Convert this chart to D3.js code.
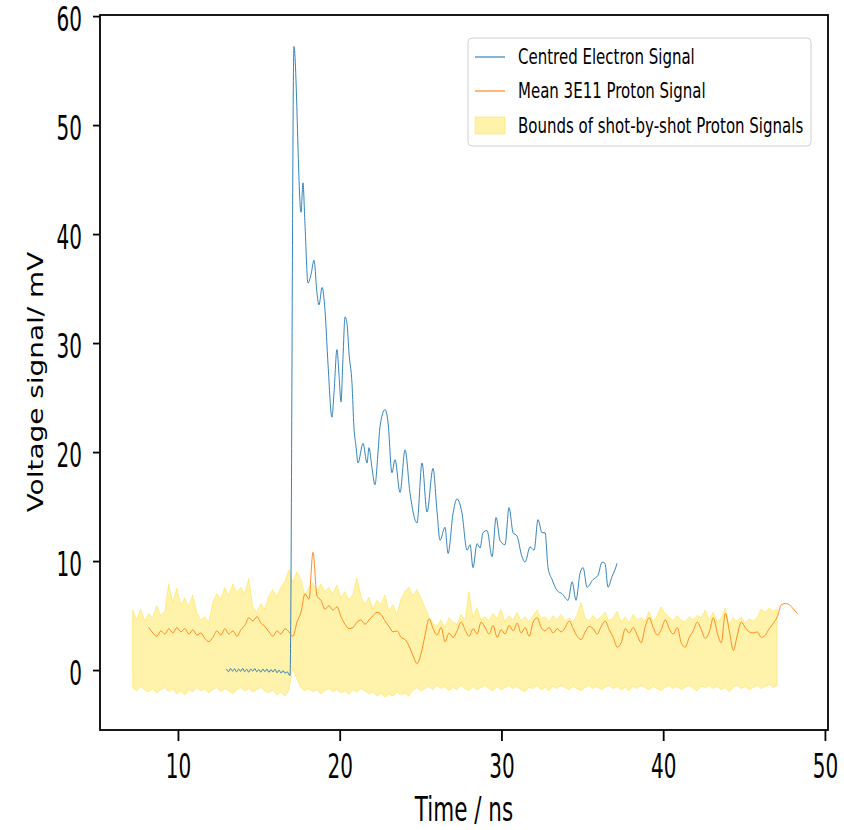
<!DOCTYPE html>
<html>
<head>
<meta charset="utf-8">
<script src="https://cdn.jsdelivr.net/npm/d3@7"></script>
<style>
  body { margin: 0; background: #fff; }
  text { font-family: "DejaVu Sans", sans-serif; fill: #000; }
</style>
</head>
<body>
<svg id="chart" width="844" height="830"></svg>
<script>
// electron signal (centred), irregular sample times
const electronT = [
  13.0, 13.125, 13.25, 13.375, 13.5, 13.625, 13.75, 13.875, 14.0, 14.125,
  14.25, 14.375, 14.5, 14.625, 14.75, 14.875, 15.0, 15.125, 15.25, 15.375,
  15.5, 15.625, 15.75, 15.875, 16.0, 16.125, 16.25, 16.375, 16.5, 16.625,
  16.75, 16.875,
  16.93, 17.17, 17.61, 17.73, 17.85, 18.04, 18.23, 18.41, 18.60, 18.72,
  18.91, 19.09, 19.28, 19.52, 19.65, 19.83, 19.96, 20.08, 20.20, 20.33,
  20.45, 20.58, 20.76, 20.88, 21.01, 21.13, 21.44, 21.69, 21.81, 22.00,
  22.18, 22.37, 22.49, 22.80, 22.99, 23.23, 23.42, 23.73, 24.04, 24.35,
  24.78, 25.09, 25.40, 25.77, 26.02, 26.20, 26.51, 26.70, 27.01, 27.25,
  27.56, 27.87, 28.06, 28.24, 28.49, 28.68, 28.86, 29.11, 29.42, 29.67,
  29.91, 30.22, 30.47, 30.72, 30.96, 31.27, 31.46, 31.77, 32.02, 32.26,
  32.51, 32.70, 32.88, 33.13, 33.44, 33.75, 34.12, 34.37, 34.61, 34.86,
  35.05, 35.29, 35.66, 35.97, 36.22, 36.40, 36.59, 36.84, 37.02, 37.15
];
const electronV = [
  0.1, -0.15, 0.15, -0.1, 0.12, -0.18, 0.1, -0.12, 0.15, -0.15,
  0.08, -0.2, 0.1, -0.1, 0.14, -0.16, 0.05, -0.2, 0.1, -0.15,
  0.1, -0.22, 0.05, -0.18, 0.08, -0.25, 0.0, -0.28, -0.05, -0.3,
  -0.15, -0.45,
  -0.5, 57.2, 42.0, 44.7, 41.0, 35.5, 36.3, 37.6, 34.5, 33.5,
  35.1, 33.0, 28.0, 23.2, 25.5, 29.4, 27.0, 24.6, 28.5, 32.4,
  31.8, 29.0, 26.3, 22.3, 20.5, 19.0, 20.8, 19.0, 20.4, 18.5,
  17.0, 20.0, 22.3, 23.9, 22.7, 18.1, 19.3, 16.3, 20.2, 16.2,
  13.5, 19.0, 14.5, 18.5, 14.5, 11.9, 13.1, 10.7, 14.4, 15.7,
  14.4, 11.0, 11.5, 9.4, 11.6, 11.2, 12.6, 12.8, 10.4, 14.0,
  11.9, 11.5, 14.9, 12.6, 12.3, 10.4, 9.9, 11.3, 11.0, 13.8,
  12.6, 12.6, 9.4, 8.3, 7.3, 7.0, 6.4, 8.1, 6.4, 8.9,
  9.4, 7.6, 8.3, 8.7, 9.9, 9.8, 7.6, 8.6, 9.2, 9.8
];

// mean proton signal, sampled every 0.2475 ns from 8.2 ns
const meanStart = 8.2, meanStep = 0.2475;
const meanV = [
  3.9, 3.4, 3.1, 3.6, 3.3, 3.8, 3.4, 3.9, 3.5, 3.8,
  3.3, 3.7, 3.2, 3.4, 2.9, 2.6, 3.0, 3.6, 3.2, 3.8,
  3.3, 3.6, 3.1, 3.7, 4.1, 4.8, 4.5, 4.9, 4.3, 4.0,
  3.5, 3.1, 3.6, 3.3, 3.8, 3.5, 3.1, 4.4, 5.3, 7.0,
  6.5, 10.8, 6.8, 6.4, 5.6, 5.9, 5.5, 5.8, 4.9, 4.2,
  3.8, 3.9, 4.4, 4.6, 4.2, 4.6, 5.0, 5.3, 5.1, 4.5,
  4.0, 3.5, 3.6, 3.0, 2.8, 2.2, 1.3, 0.6, 1.5, 3.2,
  4.7, 3.8, 3.2, 3.9, 2.6, 3.4, 3.0, 3.6, 4.4, 3.7,
  3.1, 3.8, 3.3, 4.4, 3.9, 3.3, 4.1, 3.0, 3.7, 3.3,
  4.1, 3.6, 4.3, 3.4, 3.9, 3.1, 4.4, 4.8, 3.9, 3.6,
  3.9, 3.4, 3.8, 3.5, 3.9, 4.5, 3.8, 3.1, 2.8, 3.5,
  4.0, 3.8, 3.3, 4.0, 4.5, 3.7, 3.0, 2.1, 2.5, 3.8,
  3.4, 3.9, 3.2, 2.5, 4.0, 4.8, 3.9, 3.2, 3.7, 4.6,
  3.8, 3.3, 3.9, 2.5, 2.1, 3.0, 3.6, 4.4, 3.7, 2.9,
  3.5, 4.8, 3.4, 2.5, 5.2, 3.6, 1.8, 3.2, 4.4, 3.9,
  3.5, 3.4, 3.5, 3.0, 3.2, 3.8, 4.3, 4.9, 6.0, 6.1,
  6.0, 5.6, 5.2
];

// shot-by-shot bounds, sampled every 0.2475 ns from 7.2 ns
const boundStart = 7.2, boundStep = 0.2475;
const upperV = [
  5.5, 4.6, 5.6, 4.5, 5.2, 4.8, 5.9, 5.0, 5.4, 7.9,
  6.2, 7.5, 6.0, 6.6, 5.8, 6.9, 5.3, 4.6, 4.9, 4.3,
  6.2, 7.0, 6.5, 7.6, 6.8, 7.9, 7.1, 7.6, 7.0, 8.4,
  5.8, 5.3, 6.1, 5.6, 6.8, 7.4, 6.7, 7.6, 8.1, 9.2,
  8.0, 9.0, 8.4, 6.8, 7.6, 8.0, 7.3, 7.9, 7.2, 7.6,
  7.0, 7.8, 6.6, 7.2, 6.4, 6.9, 8.5, 6.8, 6.0, 6.7,
  5.6, 6.4, 6.0, 6.9, 5.4, 6.0, 5.1, 6.5, 7.2, 7.6,
  6.8, 7.4, 6.6, 5.8, 4.9, 4.3, 4.0, 4.6, 3.9, 4.8,
  4.4, 4.2, 5.1, 4.6, 7.2, 4.8, 5.7, 4.6, 4.9, 4.5,
  5.2, 4.7, 5.6, 4.4, 5.0, 4.6, 5.3, 4.5, 4.9, 4.4,
  5.0, 5.5, 4.7, 4.9, 4.4, 5.0, 4.6, 5.1, 4.5, 4.8,
  4.4, 5.1, 6.2, 4.8, 4.5, 5.0, 4.6, 4.9, 5.3, 4.5,
  4.8, 5.4, 4.4, 4.9, 4.3, 5.1, 4.6, 4.8, 4.5, 5.4,
  4.4, 5.0, 5.8, 5.2, 4.9, 4.5, 5.0, 4.6, 4.4, 4.9,
  4.6, 5.0, 4.8, 5.5, 4.6, 5.3, 4.4, 4.8, 5.7, 4.2,
  4.8, 4.5, 4.9, 4.3, 4.7, 4.5, 4.8, 5.6, 5.3, 5.7,
  5.4, 5.6
];
const lowerV = [
  -1.6, -1.9, -1.5, -1.8, -2.0, -1.7, -2.1, -1.8, -1.6, -2.0,
  -1.7, -2.2, -1.9, -2.3, -1.8, -2.0, -1.6, -1.9, -1.7, -2.1,
  -1.8, -1.6, -2.0, -1.7, -1.9, -2.2, -1.8, -1.6, -1.9, -1.7,
  -2.0, -1.8, -1.6, -1.9, -2.1, -1.8, -2.3, -2.0, -2.4, -1.9,
  0.2, -0.8, -1.6, -1.9, -1.7, -2.0, -1.8, -2.2, -1.9, -1.7,
  -2.0, -1.8, -2.1, -1.9, -2.2, -1.8, -2.0, -1.7, -1.9, -2.2,
  -2.0, -2.4, -2.1, -2.5, -2.2, -2.4, -2.0, -2.3, -2.1, -2.4,
  -1.9, -1.6, -1.9, -1.7, -1.5, -1.8, -1.4, -1.7, -1.5, -1.9,
  -1.6, -1.8, -1.4, -1.7, -1.9, -1.5, -1.8, -1.6, -1.4, -1.7,
  -1.9, -1.5, -1.8, -1.6, -1.4, -1.7, -1.5, -1.8, -2.0, -1.6,
  -1.7, -1.4, -1.8, -1.6, -1.9, -1.5, -1.7, -1.4, -1.6, -1.8,
  -1.5, -1.7, -1.9, -1.6, -1.4, -1.7, -1.5, -1.8, -1.6, -1.4,
  -1.7, -1.5, -1.8, -1.6, -1.9, -1.5, -1.7, -1.4, -1.6, -1.8,
  -1.5, -1.7, -1.9, -1.6, -1.4, -1.7, -1.5, -1.8, -1.6, -1.4,
  -1.7, -1.9, -1.5, -1.6, -1.4, -1.7, -1.5, -1.8, -1.6, -2.0,
  -1.6, -1.4, -1.7, -1.5, -1.8, -1.6, -1.4, -1.7, -1.5, -1.3,
  -1.6, -1.4
];

const xTicks = [10, 20, 30, 40, 50];
const yTicks = [0, 10, 20, 30, 40, 50, 60];
const legendLabels = ["Centred Electron Signal", "Mean 3E11 Proton Signal", "Bounds of shot-by-shot Proton Signals"];

const BLUE = "#1f77b4", ORANGE = "#ff7f0e", GOLD = "#ffd700";

const svg = d3.select("#chart");
const m = { left: 100, right: 828, top: 15, bottom: 730 };

const x = d3.scaleLinear().domain([5.18, 50.19]).range([m.left, m.right]);
const y = d3.scaleLinear().domain([-5.5, 60.1]).range([m.bottom, m.top]);

const electron = electronT.map((t, i) => ({ t, v: electronV[i] }));
const mean = meanV.map((v, i) => ({ t: meanStart + i * meanStep, v }));
const bounds = upperV.map((u, i) => ({ t: boundStart + i * boundStep, hi: u, lo: lowerV[i] }));

svg.append("defs").append("clipPath").attr("id", "plotclip")
  .append("rect").attr("x", m.left).attr("y", m.top)
  .attr("width", m.right - m.left).attr("height", m.bottom - m.top);

const plot = svg.append("g").attr("clip-path", "url(#plotclip)");

// band of shot-by-shot bounds
plot.append("path")
  .datum(bounds)
  .attr("fill", GOLD).attr("fill-opacity", 0.33)
  .attr("stroke", GOLD).attr("stroke-opacity", 0.35).attr("stroke-width", 1)
  .attr("d", d3.area().x(d => x(d.t)).y0(d => y(d.lo)).y1(d => y(d.hi)));

plot.append("path")
  .datum(electron)
  .attr("fill", "none").attr("stroke", BLUE).attr("stroke-width", 1)
  .attr("stroke-opacity", 0.9)
  .attr("stroke-linejoin", "round")
  .attr("d", d3.line().curve(d3.curveMonotoneX).x(d => x(d.t)).y(d => y(d.v)));

plot.append("path")
  .datum(mean)
  .attr("fill", "none").attr("stroke", ORANGE).attr("stroke-width", 1)
  .attr("stroke-opacity", 0.9)
  .attr("stroke-linejoin", "round")
  .attr("d", d3.line().curve(d3.curveMonotoneX).x(d => x(d.t)).y(d => y(d.v)));

// axes
const xAxis = svg.append("g").attr("transform", `translate(0,${m.bottom})`)
  .call(d3.axisBottom(x).tickValues(xTicks).tickSize(11).tickSizeOuter(0).tickFormat(d3.format("d")));
const yAxis = svg.append("g").attr("transform", `translate(${m.left},0)`)
  .call(d3.axisLeft(y).tickValues(yTicks).tickSize(7).tickSizeOuter(0).tickFormat(d3.format("d")));

[xAxis, yAxis].forEach(g => {
  g.attr("font-size", null).attr("font-family", null);
  g.select(".domain").remove();
  g.selectAll(".tick line").attr("stroke", "#000").attr("stroke-width", 1.8);
});

xAxis.selectAll(".tick text")
  .attr("y", null).attr("dy", null)
  .attr("font-size", 20)
  .attr("text-anchor", "middle")
  .attr("dominant-baseline", "central")
  .attr("transform", "translate(0,37) scale(1,1.65)");

yAxis.selectAll(".tick text")
  .attr("x", null).attr("dy", null)
  .attr("font-size", 20)
  .attr("text-anchor", "end")
  .attr("dominant-baseline", "central")
  .attr("transform", "translate(-18,3) scale(1,1.65)");

// spines
svg.append("rect")
  .attr("x", m.left).attr("y", m.top).attr("width", m.right - m.left).attr("height", m.bottom - m.top)
  .attr("fill", "none").attr("stroke", "#000").attr("stroke-width", 1.8);

// axis titles
svg.append("text")
  .attr("transform", `translate(${(m.left + m.right) / 2},810) scale(1,1.55)`)
  .attr("text-anchor", "middle").attr("dominant-baseline", "central")
  .attr("font-size", 21.5)
  .text("Time / ns");

svg.append("text")
  .attr("transform", "translate(36,382) rotate(-90) scale(1.33,1)")
  .attr("text-anchor", "middle").attr("dominant-baseline", "central")
  .attr("font-size", 21)
  .text("Voltage signal/ mV");

// legend
const legend = svg.append("g");
legend.append("rect")
  .attr("x", 468).attr("y", 38).attr("width", 343).attr("height", 108).attr("rx", 4)
  .attr("fill", "#fff").attr("fill-opacity", 0.8)
  .attr("stroke", "#d0d0d0").attr("stroke-width", 1);

const rowY = [57, 91, 126];
legend.append("line").attr("x1", 475).attr("x2", 505).attr("y1", rowY[0]).attr("y2", rowY[0])
  .attr("stroke", BLUE).attr("stroke-width", 1.1);
legend.append("line").attr("x1", 475).attr("x2", 505).attr("y1", rowY[1]).attr("y2", rowY[1])
  .attr("stroke", ORANGE).attr("stroke-width", 1.1);
legend.append("rect").attr("x", 475).attr("y", rowY[2] - 9).attr("width", 30).attr("height", 17)
  .attr("fill", GOLD).attr("fill-opacity", 0.33)
  .attr("stroke", GOLD).attr("stroke-opacity", 0.35).attr("stroke-width", 1);

legend.selectAll("text.lab")
  .data(legendLabels)
  .join("text")
  .attr("class", "lab")
  .attr("transform", (d, i) => `translate(518,${rowY[i]}) scale(1,1.37)`)
  .attr("dominant-baseline", "central")
  .attr("font-size", 15)
  .text(d => d);
</script>
</body>
</html>
